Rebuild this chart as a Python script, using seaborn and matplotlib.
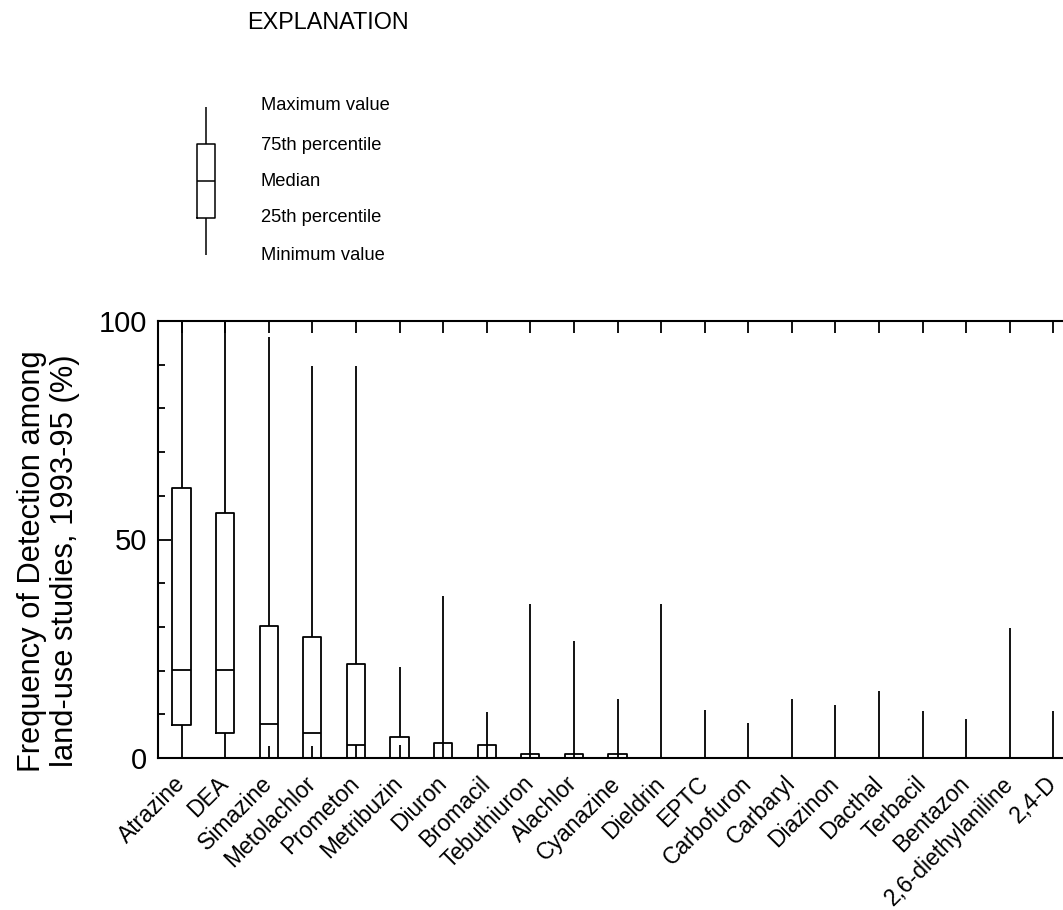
import numpy as np
import pandas as pd
import matplotlib
matplotlib.use("Agg")
import matplotlib.pyplot as plt
import seaborn as sns

# Detection frequency (%) among land-use studies, 1993-95
compounds = ["Atrazine", "DEA", "Simazine", "Metolachlor", "Prometon", "Metribuzin",
             "Diuron", "Bromacil", "Tebuthiuron", "Alachlor", "Cyanazine", "Dieldrin",
             "EPTC", "Carbofuron", "Carbaryl", "Diazinon", "Dacthal", "Terbacil",
             "Bentazon", "2,6-diethylaniline", "2,4-D"]
minimum = [0, 0, 0, 0, 0, 0, 0, 0, 0, 0, 0, 0, 0, 0, 0, 0, 0, 0, 0, 0, 0]
pct25 = [7.6, 5.8, 0, 0, 0, 0, 0, 0, 0, 0, 0, 0, 0, 0, 0, 0, 0, 0, 0, 0, 0]
median = [20.1, 20.1, 7.7, 5.7, 2.9, 0, 0, 0, 0, 0, 0, 0, 0, 0, 0, 0, 0, 0, 0, 0, 0]
pct75 = [61.7, 56.1, 30.2, 27.7, 21.4, 4.8, 3.5, 2.9, 1.0, 1.0, 1.0, 0, 0, 0, 0, 0, 0, 0, 0, 0, 0]
maximum = [100, 100, 96.4, 89.8, 89.8, 20.8, 37.0, 10.5, 35.2, 26.8, 13.6, 35.2,
           10.9, 7.9, 13.4, 12.1, 15.3, 10.7, 9.0, 29.8, 10.8]
# short stem drawn up from zero inside the lowest boxes
stem = [0, 0, 2.7, 2.7, 2.9, 2.9, 3.5, 2.9, 1.0, 1.0, 1.0, 0, 0, 0, 0, 0, 0, 0, 0, 0, 0]

legend_labels = ["Maximum value", "75th percentile", "Median",
                 "25th percentile", "Minimum value"]
legend_values = [0, 1, 2, 3, 4]

sns.set_style("ticks")
plt.rcParams["font.family"] = ["Liberation Sans", "DejaVu Sans"]
for key in ("text.color", "axes.labelcolor", "xtick.color", "ytick.color", "axes.edgecolor"):
    plt.rcParams[key] = "black"

rows = []
for name, lo, q1, md, q3, hi in zip(compounds, minimum, pct25, median, pct75, maximum):
    for v in (lo, q1, md, q3, hi):
        rows.append({"compound": name, "value": v})
df = pd.DataFrame(rows)

W, H = 1063, 910
fig = plt.figure(figsize=(W / 100, H / 100), dpi=100)
fig.patch.set_facecolor("white")

ax = fig.add_axes([158 / W, 1 - 758 / H, 919 / W, 437 / H])
lw = 1.3
line_kw = {"color": "black", "linewidth": lw}
sns.boxplot(data=df, x="compound", y="value", order=compounds, whis=(0, 100),
            width=0.42, fill=False, color="black", linewidth=lw,
            showcaps=False, showfliers=False, ax=ax,
            medianprops=line_kw, whiskerprops=line_kw, boxprops=line_kw)
ax.vlines(np.arange(len(compounds)), 0, stem, color="black", linewidth=lw)

ax.set_xlim(-0.54, len(compounds) - 0.46)
ax.set_ylim(0, 100)
ax.set_xlabel("")
ax.set_ylabel("Frequency of Detection among\nland-use studies, 1993-95 (%)",
              fontsize=22.2, linespacing=1.15)
ax.yaxis.set_label_coords(80 / W, 1 - 561 / H, transform=fig.transFigure)

for s in ax.spines.values():
    s.set_visible(True)
    s.set_linewidth(1.5)
    s.set_color("black")

ax.set_yticks([0, 50, 100])
ax.set_yticks(np.arange(0, 101, 10), minor=True)
ax.tick_params(axis="y", which="major", direction="in", length=9.5, width=1.3,
               left=True, right=True, labelsize=21, pad=8)
ax.tick_params(axis="y", which="minor", direction="in", length=5, width=1.3,
               left=True, right=True)
ax.tick_params(axis="x", which="both", direction="in", bottom=False, top=True,
               length=8.8, width=1.3, labelsize=16.5, pad=16)
for lab in ax.get_xticklabels():
    lab.set_rotation(45)
    lab.set_ha("right")
    lab.set_va("center")
    lab.set_rotation_mode("anchor")

# Explanation diagram
leg = fig.add_axes([186 / W, 1 - 255 / H, 40 / W, 148.3 / H])
leg_kw = {"color": "black", "linewidth": 1.1}
sns.boxplot(y=legend_values, whis=(0, 100), width=0.4575, fill=False, color="black",
            linewidth=1.1, showcaps=False, showfliers=False, ax=leg,
            medianprops=leg_kw, whiskerprops=leg_kw, boxprops=leg_kw)
leg.set_xlim(-0.5, 0.5)
leg.set_ylim(0, 4)
leg.axis("off")

fig.text(246.7 / W, 1 - 22.8 / H, "EXPLANATION", fontsize=16.8, va="center", ha="left")
for label, ypx in zip(legend_labels, [106, 145, 181.7, 218, 256]):
    fig.text(261 / W, 1 - ypx / H, label, fontsize=13.2, va="center", ha="left")

fig.savefig("out.png", dpi=100, facecolor="white")
